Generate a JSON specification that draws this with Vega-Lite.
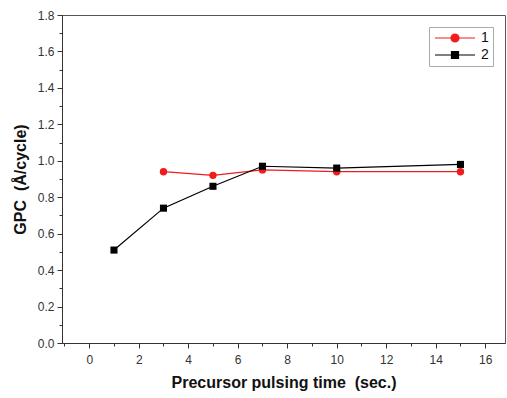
{
  "$schema": "https://vega.github.io/schema/vega-lite/v6.json",
  "width": 443,
  "height": 328,
  "autosize": {"type": "none"},
  "padding": {"left": 62, "top": 15, "right": 2, "bottom": 55},
  "background": "white",
  "config": {
    "view": {"stroke": "#555", "strokeWidth": 1},
    "font": "Liberation Sans",
    "axis": {"grid": false, "domainColor": "#333", "tickColor": "#333", "labelColor": "#333", "labelFont": "Liberation Sans", "titleFont": "Liberation Sans"}
  },
  "data": {
    "values": [
      {"series": "1", "time": 3, "gpc": 0.94},
      {"series": "1", "time": 5, "gpc": 0.92},
      {"series": "1", "time": 7, "gpc": 0.95},
      {"series": "1", "time": 10, "gpc": 0.94},
      {"series": "1", "time": 15, "gpc": 0.94},
      {"series": "2", "time": 1, "gpc": 0.51},
      {"series": "2", "time": 3, "gpc": 0.74},
      {"series": "2", "time": 5, "gpc": 0.86},
      {"series": "2", "time": 7, "gpc": 0.97},
      {"series": "2", "time": 10, "gpc": 0.96},
      {"series": "2", "time": 15, "gpc": 0.98}
    ]
  },
  "layer": [
    {
      "mark": {"type": "point", "opacity": 0},
      "encoding": {
        "x": {"field": "time", "type": "quantitative", "scale": {"domain": [-1.1, 16.8], "nice": false, "zero": false},
          "axis": {"orient": "bottom", "values": [-1, 1, 3, 5, 7, 9, 11, 13, 15], "labels": false, "tickSize": 3, "domain": false, "title": null}},
        "y": {"field": "gpc", "type": "quantitative", "scale": {"domain": [0, 1.8], "nice": false},
          "axis": {"orient": "left", "values": [0.1, 0.3, 0.5, 0.7, 0.9, 1.1, 1.3, 1.5, 1.7], "labels": false, "tickSize": 3, "domain": false, "title": null}}
      }
    },
    {
      "mark": {"type": "line", "strokeWidth": 1.2},
      "encoding": {
        "x": {"field": "time", "type": "quantitative",
          "axis": {"orient": "bottom", "values": [0, 2, 4, 6, 8, 10, 12, 14, 16], "tickSize": 5, "labelFontSize": 12, "labelPadding": 6,
            "title": "Precursor pulsing time \u00a0(sec.)", "titleFontSize": 16, "titleFontWeight": "bold", "titleColor": "#111", "titlePadding": 9}},
        "y": {"field": "gpc", "type": "quantitative",
          "axis": {"orient": "left", "values": [0, 0.2, 0.4, 0.6, 0.8, 1.0, 1.2, 1.4, 1.6, 1.8], "format": ".1f", "tickSize": 5, "labelFontSize": 12, "labelPadding": 3,
            "title": "GPC \u00a0(Å/cycle)", "titleFontSize": 16, "titleFontWeight": "bold", "titleColor": "#111", "titlePadding": 9}},
        "color": {"field": "series", "type": "nominal", "scale": {"domain": ["1", "2"], "range": ["#ee1c1c", "#000000"]},
          "legend": {
            "title": null, "orient": "top-right", "offset": 12, "padding": 4,
            "strokeColor": "#aaa", "fillColor": "white",
            "symbolSize": 100, "symbolStrokeWidth": 1.2, "labelFontSize": 14, "labelColor": "#111", "labelOffset": 34, "rowPadding": 3,
            "encode": {"symbols": {"update": {
              "shape": {"signal": "datum.value === '1' ? 'M-1,0H7M3.8,0A0.8,0.8,0,1,1,2.2,0A0.8,0.8,0,1,1,3.8,0Z' : 'M-1,0H7M2.3,-0.7H3.7V0.7H2.3Z'"},
              "fill": {"signal": "datum.value === '1' ? '#ee1c1c' : '#000000'"},
              "fillOpacity": {"value": 1}
            }}}
          }}
      }
    },
    {
      "transform": [{"filter": "datum.series === '1'"}],
      "mark": {"type": "point", "filled": true, "opacity": 1, "size": 55, "shape": "circle"},
      "encoding": {
        "x": {"field": "time", "type": "quantitative", "axis": null},
        "y": {"field": "gpc", "type": "quantitative", "axis": null},
        "color": {"field": "series", "type": "nominal", "legend": null}
      }
    },
    {
      "transform": [{"filter": "datum.series === '2'"}],
      "mark": {"type": "point", "filled": true, "opacity": 1, "size": 50, "shape": "square"},
      "encoding": {
        "x": {"field": "time", "type": "quantitative", "axis": null},
        "y": {"field": "gpc", "type": "quantitative", "axis": null},
        "color": {"field": "series", "type": "nominal", "legend": null}
      }
    }
  ],
  "resolve": {"axis": {"x": "independent", "y": "independent"}}
}
